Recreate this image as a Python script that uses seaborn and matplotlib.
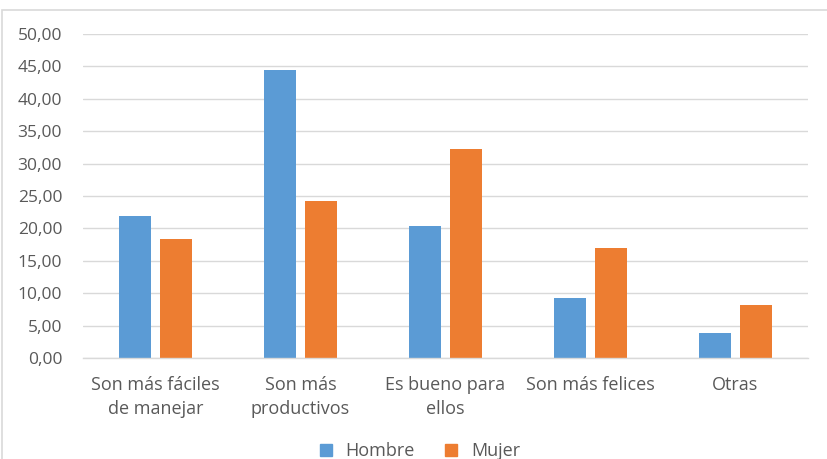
import matplotlib
matplotlib.use("Agg")
import matplotlib.pyplot as plt
import seaborn as sns
import pandas as pd
from matplotlib.patches import Rectangle
from matplotlib.lines import Line2D

categories = ["Son más fáciles\nde manejar", "Son más\nproductivos", "Es bueno para\nellos",
              "Son más felices", "Otras"]
hombre = [21.9, 44.4, 20.4, 9.3, 3.9]
mujer = [18.4, 24.2, 32.3, 16.9, 8.2]
series = ["Hombre", "Mujer"]
colors = ["#5B9BD5", "#ED7D31"]
yticks = [0, 5, 10, 15, 20, 25, 30, 35, 40, 45, 50]

df = pd.DataFrame({
    "cat": categories * 2,
    "val": hombre + mujer,
    "serie": [series[0]] * len(categories) + [series[1]] * len(categories),
})

sns.set_theme(style="white")
plt.rcParams['font.family'] = ['Open Sans', 'DejaVu Sans']

fig = plt.figure(figsize=(8.28, 4.59), dpi=100)
ax = fig.add_axes([83 / 828, 1 - 358 / 459, 725 / 828, 324 / 459])

sns.barplot(data=df, x="cat", y="val", hue="serie", palette=colors, width=0.57,
            gap=0.22, ax=ax, legend=False, saturation=1, edgecolor="none")

ax.set_ylim(0, 50)
ax.set_xlim(-0.5, len(categories) - 0.5)
ax.set_yticks(yticks)
ax.set_yticklabels([f"{v:.2f}".replace(".", ",") for v in yticks])
ax.yaxis.grid(True, color="#D9D9D9", linewidth=1)
ax.set_axisbelow(True)
for s in ["top", "right", "left"]:
    ax.spines[s].set_visible(False)
ax.spines["bottom"].set_color("#D9D9D9")
ax.spines["bottom"].set_linewidth(1)
ax.tick_params(axis="both", length=0, labelcolor="#595959")
ax.tick_params(axis="y", pad=15, labelsize=12.5)
ax.tick_params(axis="x", pad=13, labelsize=13)
for t in ax.get_xticklabels():
    t.set_linespacing(1.45)
ax.set_xlabel("")
ax.set_ylabel("")

handles = [Line2D([0], [0], marker="s", linestyle="none", markersize=9,
                  markerfacecolor=c, markeredgecolor=c) for c in colors]
fig.legend(handles, series, loc="center", bbox_to_anchor=(0.5, 1 - 451 / 459), ncol=2,
           frameon=False, fontsize=13, labelcolor="#595959", handletextpad=0.1,
           columnspacing=1.0)

fig.patches.append(Rectangle((2 / 828, -0.05), 1.2, 1 - 10 / 459 + 0.05,
                             transform=fig.transFigure, fill=False,
                             edgecolor="#D9D9D9", linewidth=1.2))

fig.savefig("out.png", dpi=100)
